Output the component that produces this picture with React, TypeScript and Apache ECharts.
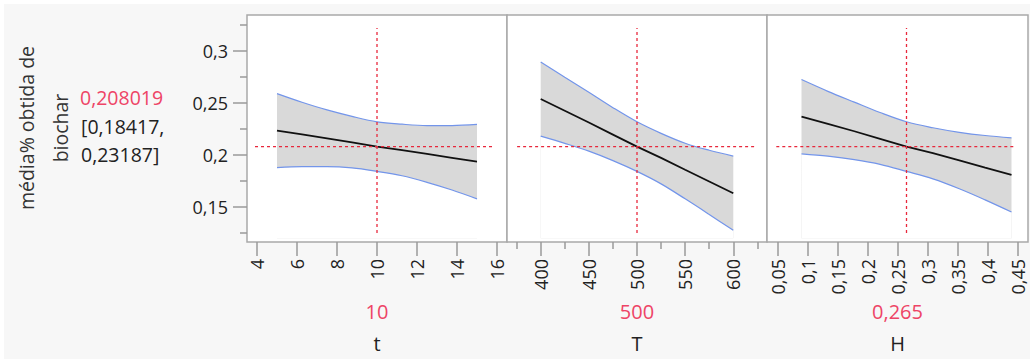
import React, { useEffect, useRef } from "react";
import * as echarts from "echarts";

// ---- data ----
const tX = [5, 6.25, 7.5, 8.75, 10, 11.25, 12.5, 13.75, 15];
const tMean = [0.2234, 0.2197, 0.216, 0.2121, 0.208, 0.2047, 0.201, 0.1973, 0.1936];
const tUpper = [0.259, 0.2507, 0.2433, 0.2371, 0.2319, 0.2296, 0.2283, 0.2283, 0.2294];
const tLower = [0.1878, 0.1887, 0.1887, 0.1875, 0.1842, 0.18, 0.1737, 0.1663, 0.1578];

const TX = [400, 425, 450, 475, 500, 525, 550, 575, 600];
const TMean = [0.2538, 0.2425, 0.2312, 0.2196, 0.208, 0.1972, 0.1858, 0.1745, 0.1632];
const TUpper = [0.2895, 0.2747, 0.2603, 0.2455, 0.2319, 0.2208, 0.2113, 0.2045, 0.1989];
const TLower = [0.2181, 0.2112, 0.2037, 0.1946, 0.1842, 0.1722, 0.1578, 0.1428, 0.1275];

const HX = [0.09, 0.134, 0.178, 0.221, 0.265, 0.309, 0.353, 0.396, 0.44];
const HMean = [0.2368, 0.2298, 0.2228, 0.2155, 0.208, 0.2018, 0.1948, 0.1878, 0.1808];
const HUpper = [0.2725, 0.2612, 0.2508, 0.2408, 0.2319, 0.2262, 0.2218, 0.2187, 0.2165];
const HLower = [0.2011, 0.1988, 0.1955, 0.191, 0.1842, 0.177, 0.1675, 0.1568, 0.1451];

const factorNames = ["t", "T", "H"];
const factorCurrent = [10, 500, 0.265];
const predicted = 0.208019;
const predictedText = "0,208019";
const ciText = ["[0,18417,", "0,23187]"];
const yTitle = ["média% obtida de", "biochar"];

const tTicks = [4, 6, 8, 10, 12, 14, 16];
const TTicks = [400, 450, 500, 550, 600];
const TMinor = [375, 425, 475, 525, 575, 625];
const HTicks = [0.05, 0.1, 0.15, 0.2, 0.25, 0.3, 0.35, 0.4, 0.45];
const yTicks = [0.15, 0.2, 0.25, 0.3];
const yMinor = [0.125, 0.175, 0.225, 0.275, 0.325];

const xRanges = [
  [3.5, 16.5],
  [365, 635],
  [0.0325, 0.4675],
];
const yRange = [0.1163, 0.3346];
// extent of the red reference lines
const hLineX = [
  [3.9, 15.9],
  [375.5, 623.6],
  [0.048, 0.4455],
];
const vLineY = [0.125, 0.322];

const FONT = "Open Sans";
const RED_TXT = "#ee4466";
const RED_LINE = "#e8283c";
const BLUE = "#7395ea";

const fmt = (v: number) => String(+Number(v).toFixed(4)).replace(".", ",");

export default function App() {
  const ref = useRef<HTMLDivElement>(null);
  useEffect(() => {
    if (!ref.current) return;
    const chart = echarts.init(ref.current, undefined, { renderer: "svg" });

    const grids = [
      { left: 247, top: 15, width: 260, height: 227 },
      { left: 507, top: 15, width: 260, height: 227 },
      { left: 767, top: 15, width: 261, height: 227 },
    ].map((g) => ({
      ...g,
      show: true,
      backgroundColor: "#ffffff",
      borderColor: "#a9a9a9",
      borderWidth: 1.5,
    }));

    const tickStyle = { color: "#9a9a9a", width: 1.5 };
    const labelStyle = { fontFamily: FONT, fontSize: 18, color: "#222" };

    const mkX = (gi: number, ticks: number[], len: number, labels: boolean) => ({
      type: "value",
      gridIndex: gi,
      position: "bottom",
      min: xRanges[gi][0],
      max: xRanges[gi][1],
      axisLine: { show: false },
      splitLine: { show: false },
      axisTick: { show: true, length: len, customValues: ticks, lineStyle: tickStyle },
      axisLabel: labels
        ? { show: true, customValues: ticks, rotate: 90, margin: 17, formatter: fmt, ...labelStyle }
        : { show: false },
    });

    const xAxis = [
      mkX(0, tTicks, 14, true),
      mkX(1, TTicks, 14, true),
      mkX(1, TMinor, 7, false),
      mkX(2, HTicks, 14, true),
    ];

    const mkY = (gi: number, ticks: number[] | null, len: number, labels: boolean) => ({
      type: "value",
      gridIndex: gi,
      position: "left",
      min: yRange[0],
      max: yRange[1],
      show: ticks !== null,
      axisLine: { show: false },
      splitLine: { show: false },
      axisTick: ticks
        ? { show: true, length: len, customValues: ticks, lineStyle: tickStyle }
        : { show: false },
      axisLabel: labels
        ? { show: true, customValues: ticks, margin: 19, formatter: fmt, ...labelStyle }
        : { show: false },
    });

    const yAxis = [
      mkY(0, yTicks, 14, true),
      mkY(0, yMinor, 7, false),
      mkY(1, null, 0, false),
      mkY(2, null, 0, false),
    ];

    const panels = [
      { x: tX, m: tMean, u: tUpper, l: tLower, xi: 0, yi: 0 },
      { x: TX, m: TMean, u: TUpper, l: TLower, xi: 1, yi: 2 },
      { x: HX, m: HMean, u: HUpper, l: HLower, xi: 3, yi: 3 },
    ];

    const series: any[] = [];
    panels.forEach((p, i) => {
      const zip = (ys: number[]) => p.x.map((x, k) => [x, ys[k]]);
      const common = {
        type: "line",
        xAxisIndex: p.xi,
        yAxisIndex: p.yi,
        symbol: "none",
        silent: true,
      };
      series.push({
        ...common,
        data: zip(p.u),
        smooth: 0.35,
        lineStyle: { color: BLUE, width: 1.2 },
        areaStyle: { color: "#d9d9d9", opacity: 1, origin: 0.12 },
        z: 2,
      });
      series.push({
        ...common,
        data: zip(p.l),
        smooth: 0.35,
        lineStyle: { color: BLUE, width: 1.2 },
        areaStyle: { color: "#ffffff", opacity: 1, origin: 0.12 },
        z: 3,
      });
      series.push({
        ...common,
        data: zip(p.m),
        lineStyle: { color: "#111", width: 1.8 },
        z: 4,
      });
      series.push({
        ...common,
        data: [
          [hLineX[i][0], predicted],
          [hLineX[i][1], predicted],
        ],
        lineStyle: { color: RED_LINE, width: 1.3, type: [3, 3] },
        z: 5,
      });
      series.push({
        ...common,
        data: [
          [factorCurrent[i], vLineY[0]],
          [factorCurrent[i], vLineY[1]],
        ],
        lineStyle: { color: RED_LINE, width: 1.3, type: [3, 3] },
        z: 5,
      });
    });

    const centers = grids.map((g) => g.left + g.width / 2);
    const txt = (x: number, y: number, text: string, fill: string, align: string, size: number, rot = 0) => ({
      type: "text",
      x,
      y,
      rotation: rot,
      silent: true,
      style: {
        text,
        fontFamily: FONT,
        fontSize: size,
        fill,
        textAlign: align,
        textVerticalAlign: "middle",
      },
    });
    const graphic: any[] = [
      {
        type: "rect",
        shape: { x: 4, y: 4, width: 1030, height: 359 },
        style: { fill: "#f7f7f7" },
        z: -100,
        silent: true,
      },
      txt(26, 128, yTitle[0], "#333", "center", 19.5, Math.PI / 2),
      txt(60, 128, yTitle[1], "#333", "center", 19.5, Math.PI / 2),
      txt(80, 97, predictedText, RED_TXT, "left", 19.5),
      txt(81, 126, ciText[0], "#222", "left", 19.5),
      txt(81, 154, ciText[1], "#222", "left", 19.5),
    ];
    factorNames.forEach((name, i) => {
      graphic.push(txt(centers[i], 311, fmt(factorCurrent[i]), RED_TXT, "center", 20));
      graphic.push(txt(centers[i], 343, name, "#222", "center", 20));
    });

    chart.setOption({
      animation: false,
      backgroundColor: "#ffffff",
      grid: grids,
      xAxis,
      yAxis,
      series,
      graphic,
    });
    return () => chart.dispose();
  }, []);

  return (
    <div
      ref={ref}
      style={{ position: "fixed", left: 0, top: 0, width: 1030, height: 359 }}
    />
  );
}
